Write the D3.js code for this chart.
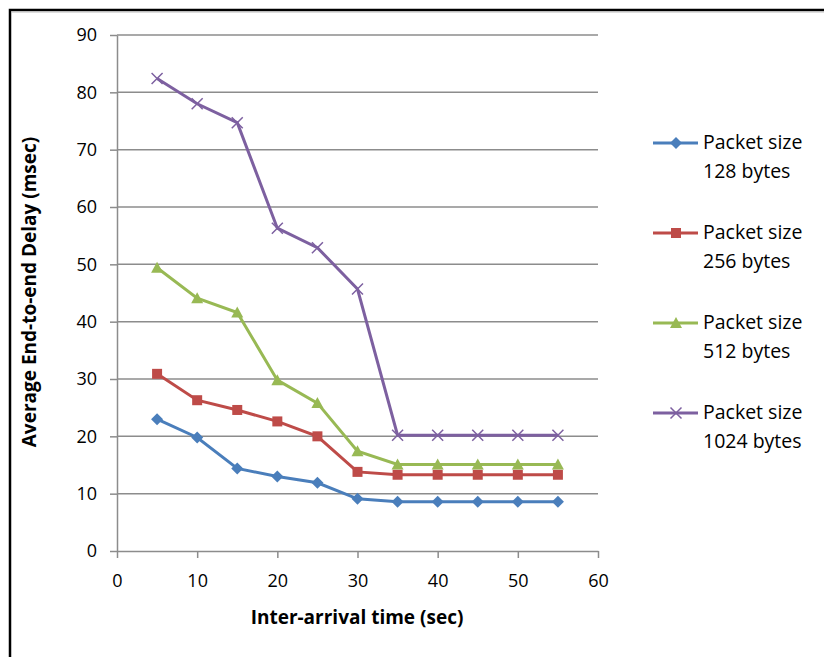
<!DOCTYPE html>
<html>
<head>
<meta charset="utf-8">
<script src="https://cdn.jsdelivr.net/npm/d3@7"></script>
<style>
  body { margin: 0; background: #fff; }
  text { font-family: "Open Sans", sans-serif; fill: #000; }
</style>
</head>
<body>
<svg id="chart" width="824" height="657"></svg>
<script>
// valeurs
const times = [5, 10, 15, 20, 25, 30, 35, 40, 45, 50, 55];
const delay128 = [23.0, 19.8, 14.4, 13.0, 11.9, 9.1, 8.6, 8.6, 8.6, 8.6, 8.6];
const delay256 = [30.9, 26.3, 24.6, 22.6, 20.0, 13.8, 13.3, 13.3, 13.3, 13.3, 13.3];
const delay512 = [49.4, 44.1, 41.6, 29.8, 25.8, 17.4, 15.1, 15.1, 15.1, 15.1, 15.1];
const delay1024 = [82.4, 78.0, 74.7, 56.3, 52.9, 45.7, 20.2, 20.2, 20.2, 20.2, 20.2];
const seriesNames = ["Packet size|128 bytes", "Packet size|256 bytes", "Packet size|512 bytes", "Packet size|1024 bytes"];
const xTicks = [0, 10, 20, 30, 40, 50, 60];
const yTicks = [0, 10, 20, 30, 40, 50, 60, 70, 80, 90];

const series = [
  { name: seriesNames[0], values: delay128, color: "#4a7ebb", marker: "diamond" },
  { name: seriesNames[1], values: delay256, color: "#be4b48", marker: "square" },
  { name: seriesNames[2], values: delay512, color: "#98b954", marker: "triangle" },
  { name: seriesNames[3], values: delay1024, color: "#7d60a0", marker: "cross" }
];

const svg = d3.select("#chart");
const margin = { top: 35, left: 117 };
const width = 481, height = 516;
const fontSize = 18;

// cadre
svg.append("rect")
  .attr("x", 10).attr("y", 10)
  .attr("width", 830).attr("height", 700)
  .attr("fill", "none").attr("stroke", "#000").attr("stroke-width", 2.5);
svg.append("line")
  .attr("x1", 11).attr("x2", 824).attr("y1", 12).attr("y2", 12)
  .attr("stroke", "#bbb").attr("stroke-width", 1);

const x = d3.scaleLinear().domain([0, 60]).range([0, width]);
const y = d3.scaleLinear().domain([0, 90]).range([height, 0]);

const g = svg.append("g")
  .attr("transform", "translate(" + margin.left + "," + margin.top + ")");

// grille
g.selectAll(".grid")
  .data(yTicks.slice(1))
  .join("line")
  .attr("class", "grid")
  .attr("x1", 0).attr("x2", width)
  .attr("y1", d => y(d)).attr("y2", d => y(d))
  .attr("stroke", "#8c8c8c").attr("stroke-width", 1.5);

// axe Y
const yAxis = g.append("g")
  .call(d3.axisLeft(y).tickValues(yTicks).tickSize(7).tickPadding(13).tickSizeOuter(0));
yAxis.select(".domain").attr("stroke", "#8c8c8c").attr("stroke-width", 1.5);
yAxis.selectAll(".tick line").attr("stroke", "#8c8c8c").attr("stroke-width", 1.5);
yAxis.selectAll(".tick text").attr("font-size", fontSize).attr("font-family", "'Open Sans', sans-serif").attr("fill", "#000");

// axe X
const xAxis = g.append("g")
  .attr("transform", "translate(0," + height + ")")
  .call(d3.axisBottom(x).tickValues(xTicks).tickSize(7).tickPadding(16).tickSizeOuter(0));
xAxis.select(".domain").attr("stroke", "#8c8c8c").attr("stroke-width", 1.5);
xAxis.selectAll(".tick line").attr("stroke", "#8c8c8c").attr("stroke-width", 1.5);
xAxis.selectAll(".tick text").attr("font-size", fontSize).attr("font-family", "'Open Sans', sans-serif").attr("fill", "#000");

// titres des axes
svg.append("text")
  .attr("x", 357).attr("y", 624)
  .attr("text-anchor", "middle")
  .attr("font-size", 19).attr("font-weight", "bold")
  .text("Inter-arrival time (sec)");

svg.append("text")
  .attr("transform", "translate(36,292) rotate(-90)")
  .attr("text-anchor", "middle")
  .attr("font-size", 19).attr("font-weight", "bold")
  .text("Average End-to-end Delay (msec)");

function drawMarker(sel, type, color) {
  if (type === "diamond") {
    sel.append("path").attr("d", "M0,-6L6,0L0,6L-6,0Z").attr("fill", color);
  } else if (type === "square") {
    sel.append("rect").attr("x", -5).attr("y", -5).attr("width", 10).attr("height", 10).attr("fill", color);
  } else if (type === "triangle") {
    sel.append("path").attr("d", "M0,-6L6,5L-6,5Z").attr("fill", color);
  } else {
    sel.append("path").attr("d", "M-5.5,-5.5L5.5,5.5M-5.5,5.5L5.5,-5.5").attr("stroke", color).attr("stroke-width", 1.5).attr("fill", "none");
  }
}

const line = d3.line()
  .x((d, i) => x(times[i]))
  .y(d => y(d));

series.forEach(function(s) {
  g.append("path")
    .datum(s.values)
    .attr("d", line)
    .attr("fill", "none")
    .attr("stroke", s.color)
    .attr("stroke-width", 3);

  g.selectAll(".m-" + s.marker)
    .data(s.values)
    .join("g")
    .attr("class", "m-" + s.marker)
    .attr("transform", (d, i) => "translate(" + x(times[i]) + "," + y(d) + ")")
    .each(function() { drawMarker(d3.select(this), s.marker, s.color); });
});

// légende
const legend = svg.append("g").attr("transform", "translate(653,143)");
series.forEach(function(s, i) {
  const row = legend.append("g").attr("transform", "translate(0," + (i * 90) + ")");
  row.append("line").attr("x1", 0).attr("x2", 45).attr("y1", 0).attr("y2", 0)
    .attr("stroke", s.color).attr("stroke-width", 3);
  const m = row.append("g").attr("transform", "translate(23,0)");
  drawMarker(m, s.marker, s.color);
  const parts = s.name.split("|");
  row.append("text").attr("x", 50).attr("y", 6).attr("font-size", 19.5).text(parts[0]);
  row.append("text").attr("x", 50).attr("y", 35).attr("font-size", 19.5).text(parts[1]);
});
</script>
</body>
</html>
